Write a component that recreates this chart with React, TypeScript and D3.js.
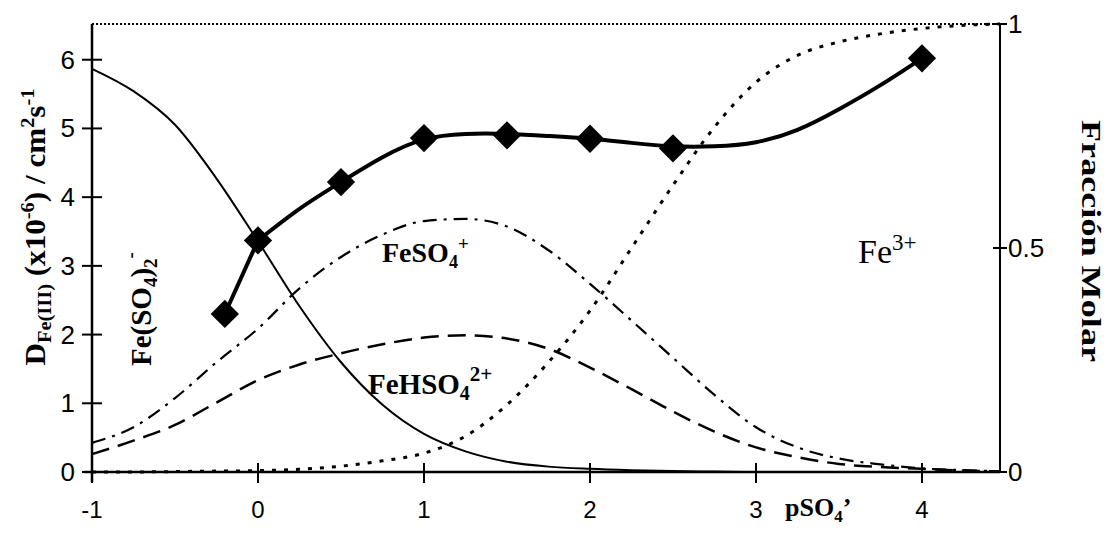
import React from 'react';
import * as d3 from 'd3';

// pSO4' grid for speciation curves (right axis, molar fraction)
const pGrid = [-1, -0.75, -0.5, -0.25, 0, 0.25, 0.5, 0.75, 1, 1.25, 1.5, 1.75, 2, 2.25, 2.5, 2.75, 3, 3.25, 3.5, 3.75, 4, 4.25, 4.47];
const fracFeSO4_2 = [0.90, 0.85, 0.775, 0.655, 0.515, 0.37, 0.245, 0.15, 0.085, 0.046, 0.023, 0.012, 0.007, 0.004, 0.002, 0.001, 0, 0, 0, 0, 0, 0, 0];
const fracFeSO4 = [0.065, 0.10, 0.165, 0.245, 0.32, 0.41, 0.48, 0.53, 0.56, 0.565, 0.548, 0.495, 0.42, 0.338, 0.255, 0.172, 0.10, 0.055, 0.03, 0.017, 0.008, 0.004, 0.002];
const fracFeHSO4 = [0.04, 0.07, 0.105, 0.155, 0.205, 0.24, 0.265, 0.285, 0.30, 0.305, 0.298, 0.275, 0.233, 0.185, 0.135, 0.09, 0.055, 0.033, 0.018, 0.011, 0.007, 0.003, 0.001];
const fracFe3 = [0, 0, 0.001, 0.002, 0.003, 0.006, 0.013, 0.025, 0.042, 0.08, 0.15, 0.245, 0.36, 0.50, 0.64, 0.77, 0.87, 0.93, 0.96, 0.978, 0.99, 0.997, 1.0];

// Experimental diffusion coefficients (left axis)
const expP = [-0.2, 0, 0.5, 1, 1.5, 2, 2.5, 4];
const expD = [2.30, 3.37, 4.22, 4.86, 4.90, 4.85, 4.71, 6.02];

// Fitted curve through experimental points (first leg straight, then smooth)
const fitLegP = [-0.2, 0];
const fitLegD = [2.30, 3.37];
const fitP = [0, 0.25, 0.5, 0.75, 1, 1.25, 1.5, 1.75, 2, 2.25, 2.5, 2.75, 3, 3.25, 3.5, 3.75, 4];
const fitD = [3.37, 3.83, 4.22, 4.58, 4.84, 4.92, 4.92, 4.89, 4.85, 4.79, 4.74, 4.74, 4.80, 4.98, 5.28, 5.63, 6.02];

const xTicks = [-1, 0, 1, 2, 3, 4];
const yLeftTicks = [0, 1, 2, 3, 4, 5, 6];
const yRightTicks = [0, 0.5, 1];

const W = 1109, H = 534;
const X0 = 92, X1 = 1000, Y0 = 472, Y1 = 24;

export default function App() {
  const x = d3.scaleLinear().domain([-1, 4.47]).range([X0, X1]);
  const yL = d3.scaleLinear().domain([0, 6.52]).range([Y0, Y1]);
  const yR = d3.scaleLinear().domain([0, 1]).range([Y0, Y1]);

  const fracLine = d3.line<[number, number]>()
    .x(d => x(d[0])).y(d => yR(d[1])).curve(d3.curveMonotoneX);
  const fitLine = d3.line<[number, number]>()
    .x(d => x(d[0])).y(d => yL(d[1])).curve(d3.curveNatural);
  const legLine = d3.line<[number, number]>()
    .x(d => x(d[0])).y(d => yL(d[1]));

  const zip = (a: number[], b: number[]) => a.map((v, i) => [v, b[i]] as [number, number]);
  const diamond = d3.symbol().type(d3.symbolSquare).size(400)();

  const serif = "'Liberation Serif', 'Times New Roman', serif";
  const sans = "'Liberation Sans', Arial, sans-serif";

  return (
    <svg width={W} height={H} style={{ position: 'absolute', left: 0, top: 0, background: '#fff' }}>
      <rect x={0} y={0} width={W} height={H} fill="#fff" />
      {/* top dotted border */}
      <line x1={X0} x2={X1} y1={Y1} y2={Y1} stroke="#000" strokeWidth={2} strokeDasharray="2,2" />

      {/* speciation curves */}
      <path d={fracLine(zip(pGrid, fracFeSO4_2)) || ''} fill="none" stroke="#000" strokeWidth={2} />
      <path d={fracLine(zip(pGrid, fracFeSO4)) || ''} fill="none" stroke="#000" strokeWidth={2.2} strokeDasharray="14,7,3,7" />
      <path d={fracLine(zip(pGrid, fracFeHSO4)) || ''} fill="none" stroke="#000" strokeWidth={2.5} strokeDasharray="18,9" />
      <path d={fracLine(zip(pGrid, fracFe3)) || ''} fill="none" stroke="#000" strokeWidth={3} strokeDasharray="4,8" />

      {/* fit */}
      <path d={legLine(zip(fitLegP, fitLegD)) || ''} fill="none" stroke="#000" strokeWidth={4} />
      <path d={fitLine(zip(fitP, fitD)) || ''} fill="none" stroke="#000" strokeWidth={4} />
      {expP.map((p, i) => (
        <path key={i} d={diamond || ''} transform={`translate(${x(p)},${yL(expD[i])}) rotate(45)`} fill="#000" />
      ))}

      {/* axes */}
      <line x1={X0} x2={X0} y1={Y1} y2={Y0 + 10} stroke="#000" strokeWidth={2.5} />
      <line x1={X0 - 8} x2={X1} y1={Y0} y2={Y0} stroke="#000" strokeWidth={2.5} />
      <line x1={X1} x2={X1} y1={Y1} y2={Y0} stroke="#000" strokeWidth={2} />

      {yLeftTicks.map(t => (
        <g key={'yl' + t}>
          <line x1={X0 - 10} x2={X0 + 10} y1={yL(t)} y2={yL(t)} stroke="#000" strokeWidth={2} />
          <text x={X0 - 17} y={yL(t) + 9} textAnchor="end" fontFamily={sans} fontSize={26}>{t}</text>
        </g>
      ))}
      {xTicks.map(t => (
        <g key={'x' + t}>
          <line x1={x(t)} x2={x(t)} y1={Y0 - 9} y2={Y0 + 11} stroke="#000" strokeWidth={2} />
          <text x={x(t)} y={Y0 + 46} textAnchor="middle" fontFamily={sans} fontSize={24}>{t}</text>
        </g>
      ))}
      {yRightTicks.map(t => (
        <g key={'yr' + t}>
          <line x1={X1 - 7} x2={X1 + 7} y1={yR(t)} y2={yR(t)} stroke="#000" strokeWidth={2} />
          <text x={X1 + 8} y={yR(t) + 9} textAnchor="start" fontFamily={sans} fontSize={26}>{t}</text>
        </g>
      ))}

      {/* axis titles */}
      <text transform="translate(45,227) rotate(-90)" textAnchor="middle" fontFamily={serif} fontWeight="bold" fontSize={29} textLength={277} lengthAdjust="spacingAndGlyphs">
        D<tspan fontSize={19} dy={6}>Fe(III)</tspan>
        <tspan dy={-6}> (x10</tspan><tspan fontSize={19} dy={-11}>-6</tspan>
        <tspan dy={11}>) / cm</tspan><tspan fontSize={19} dy={-11}>2</tspan>
        <tspan dy={11}>s</tspan><tspan fontSize={19} dy={-11}>-1</tspan>
      </text>
      <text transform="translate(1082,241) rotate(90)" textAnchor="middle" fontFamily={serif} fontWeight="bold" fontSize={28} textLength={242} lengthAdjust="spacingAndGlyphs">
        Fracción Molar
      </text>

      {/* species labels */}
      <text transform="translate(151,366) rotate(-90)" fontFamily={serif} fontWeight="bold" fontSize={29}>
        Fe(SO<tspan fontSize={19} dy={6}>4</tspan><tspan dy={-6}>)</tspan><tspan fontSize={19} dy={6}>2</tspan><tspan fontSize={19} dy={-20}>-</tspan>
      </text>
      <text x={382} y={262} fontFamily={serif} fontWeight="bold" fontSize={28}>
        FeSO<tspan fontSize={18} dy={6}>4</tspan><tspan fontSize={19} dy={-18}>+</tspan>
      </text>
      <text x={368} y={394} fontFamily={serif} fontWeight="bold" fontSize={29}>
        FeHSO<tspan fontSize={20} dy={6}>4</tspan><tspan fontSize={21} dy={-19}>2+</tspan>
      </text>
      <text x={858} y={263} fontFamily={serif} fontSize={34}>
        Fe<tspan fontSize={23} dy={-13}>3+</tspan>
      </text>
      <text x={785} y={516} fontFamily={serif} fontWeight="bold" fontSize={26}>
        pSO<tspan fontSize={17} dy={6}>4</tspan><tspan dy={-6}>’</tspan>
      </text>
    </svg>
  );
}
